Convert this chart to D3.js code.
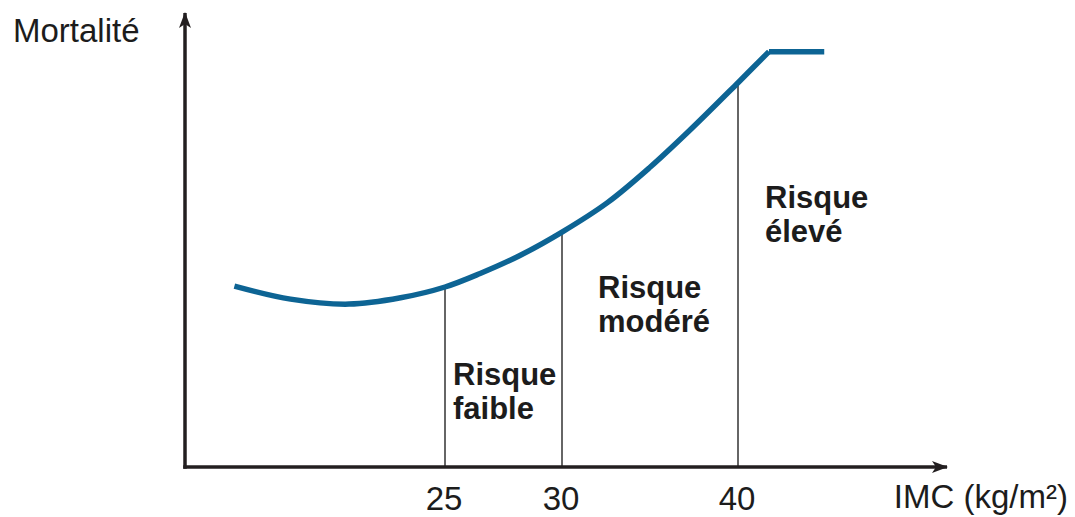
<!DOCTYPE html>
<html>
<head>
<meta charset="utf-8">
<script src="https://cdn.jsdelivr.net/npm/d3@7"></script>
<style>
	html, body { margin: 0; padding: 0; background: #fff; }
	svg { display: block; font-family: "Liberation Sans", Arial, Helvetica, sans-serif; }
	.axis-line { stroke: #231f20; stroke-width: 3.5; fill: none; }
	.seuil { stroke: #333; stroke-width: 1.5; }
	.courbe { stroke: #0d6494; stroke-width: 5.5; fill: none; stroke-linejoin: round; }
	.lbl { fill: #1c1c1c; font-size: 33px; }
	.zone { fill: #1c1c1c; font-size: 31px; font-weight: bold; }
</style>
</head>
<body>
<div id="chart"></div>
<script>
// IMC (kg/m2)
const imc = [16, 18.4, 20.9, 23.1, 25, 26.5, 28.2, 30, 32.6, 35, 37.2, 40, 41.76];
// mortalite (unites arbitraires, 0 = axe)
const mortalite = [4.02, 3.73, 3.62, 3.76, 4.0, 4.3, 4.7, 5.22, 5.88, 6.66, 7.46, 8.54, 9.23];
// plateau apres le coude
const plateauImc = [41.76, 44.9];
const plateauMort = [9.23, 9.23];

const tickValues = [25, 30, 40];
const tickLabels = ['25', '30', '40'];
const zones = [['Risque', 'faible'], ['Risque', 'modéré'], ['Risque', 'élevé']];

const W = 1075, H = 517;

function trans(x, y) {
	return 'translate(' + x + ',' + y + ')';
}

// echelle schematique : les ecarts 25-30 et 30-40 n'ont pas la meme longueur
const x = d3.scaleLinear()
	.domain(tickValues)
	.range([445, 562, 738]);

const y = d3.scaleLinear()
	.domain([0, 10])
	.range([467, 17]);

const X0 = 185, X1 = 947, Y0 = 467, YTOP = 13;

const svg = d3.select('#chart')
	.append('svg')
	.attr('width', W)
	.attr('height', H);

const defs = svg.append('defs');
defs.append('marker')
	.attr('id', 'fleche')
	.attr('viewBox', '0 0 16 12')
	.attr('refX', 15)
	.attr('refY', 6)
	.attr('markerWidth', 16)
	.attr('markerHeight', 12)
	.attr('markerUnits', 'userSpaceOnUse')
	.attr('orient', 'auto')
	.append('path')
	.attr('d', 'M0,0 L16,6 L0,12 L4,6 Z')
	.attr('fill', '#231f20');

// lignes verticales des seuils (jusqu'a la courbe)
const interp = d3.scaleLinear().domain(imc).range(mortalite);
svg.append('g')
	.selectAll('line')
	.data(tickValues)
	.enter().append('line')
	.attr('class', 'seuil')
	.attr('x1', d => x(d))
	.attr('x2', d => x(d))
	.attr('y1', Y0)
	.attr('y2', d => y(interp(d)));

// axes
svg.append('line')
	.attr('class', 'axis-line')
	.attr('x1', X0 - 1.75).attr('y1', Y0)
	.attr('x2', X1).attr('y2', Y0)
	.attr('marker-end', 'url(#fleche)');

svg.append('line')
	.attr('class', 'axis-line')
	.attr('x1', X0).attr('y1', Y0 + 1.75)
	.attr('x2', X0).attr('y2', YTOP)
	.attr('marker-end', 'url(#fleche)');

// courbe
const line = d3.line()
	.x(d => x(d[0]))
	.y(d => y(d[1]))
	.curve(d3.curveCatmullRom.alpha(0.5));

svg.append('path')
	.datum(d3.zip(imc, mortalite))
	.attr('class', 'courbe')
	.attr('d', line);

svg.append('path')
	.datum(d3.zip(plateauImc, plateauMort))
	.attr('class', 'courbe')
	.attr('d', line.curve(d3.curveLinear));

// etiquettes des graduations
svg.append('g')
	.selectAll('text')
	.data(tickValues)
	.enter().append('text')
	.attr('class', 'lbl')
	.attr('x', d => x(d) - 1)
	.attr('y', 510)
	.attr('text-anchor', 'middle')
	.text((d, i) => tickLabels[i]);

svg.append('text')
	.attr('class', 'lbl')
	.attr('x', 13)
	.attr('y', 42)
	.text('Mortalité');

svg.append('text')
	.attr('class', 'lbl')
	.attr('x', 1068)
	.attr('y', 508)
	.attr('text-anchor', 'end')
	.text('IMC (kg/m²)');

// zones de risque
const zoneDx = [8, 36, 27];
const zoneY = [385, 298, 208];
const zoneG = svg.append('g')
	.selectAll('text')
	.data(zones)
	.enter().append('text')
	.attr('class', 'zone')
	.attr('transform', (d, i) => trans(x(tickValues[i]) + zoneDx[i], zoneY[i]));

zoneG.selectAll('tspan')
	.data(d => d)
	.enter().append('tspan')
	.attr('x', 0)
	.attr('y', (d, i) => i * 34)
	.text(d => d);
</script>
</body>
</html>
